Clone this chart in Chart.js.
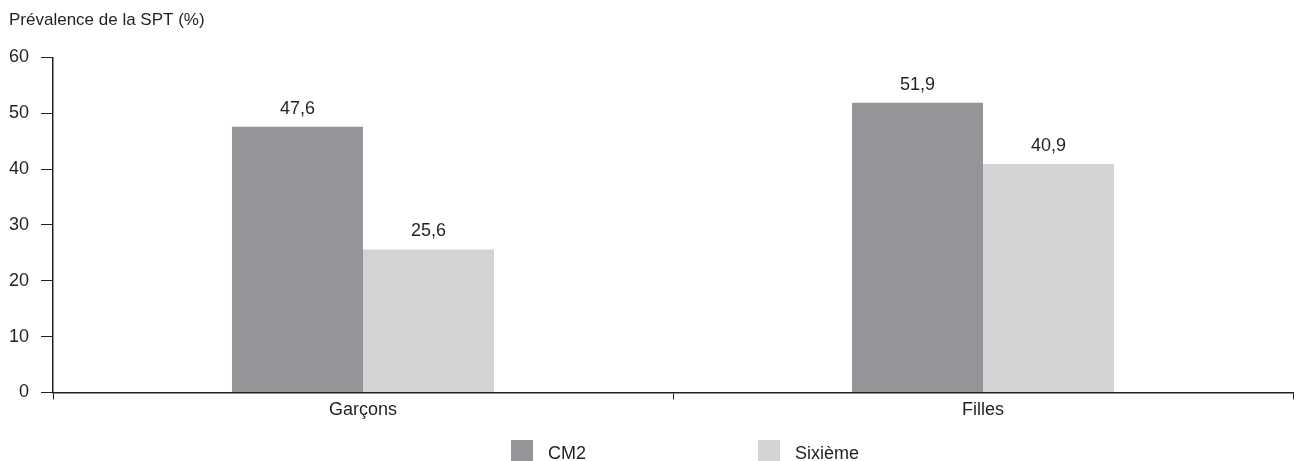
<!DOCTYPE html>
<html>
<head>
<meta charset="utf-8">
<script src="https://cdn.jsdelivr.net/npm/chart.js@4/dist/chart.umd.min.js"></script>
<style>
  html, body { margin: 0; padding: 0; background: #fff; }
  #wrap { width: 1297px; height: 461px; }
</style>
</head>
<body>
<div id="wrap"><canvas id="sptChart"></canvas></div>
<script>
const categories = ["Garçons", "Filles"];
const cm2Values = [47.6, 51.9];
const sixiemeValues = [25.6, 40.9];
const yTicks = [0, 10, 20, 30, 40, 50, 60];

const FONT = "'Liberation Sans', Arial, sans-serif";
const INK = "#231f20";
const SIZE = 18;

// writes the value over each bar, French decimal comma
const valueLabels = {
  id: "valueLabels",
  afterDatasetsDraw(chart) {
    const ctx = chart.ctx;
    ctx.save();
    ctx.font = SIZE + "px " + FONT;
    ctx.fillStyle = INK;
    ctx.textAlign = "center";
    ctx.textBaseline = "alphabetic";
    chart.data.datasets.forEach((ds, i) => {
      chart.getDatasetMeta(i).data.forEach((bar, j) => {
        const txt = ds.data[j].toFixed(1).replace(".", ",");
        ctx.fillText(txt, bar.x, bar.y - 13);
      });
    });
    ctx.restore();
  }
};

// legend under the plot, two widely spaced items
const bottomLegend = {
  id: "bottomLegend",
  afterDraw(chart) {
    const ctx = chart.ctx;
    const mid = (chart.chartArea.left + chart.chartArea.right) / 2;
    const offsets = [-162, 85];
    ctx.save();
    ctx.font = SIZE + "px " + FONT;
    ctx.textBaseline = "alphabetic";
    ctx.textAlign = "left";
    chart.data.datasets.forEach((ds, i) => {
      const x = mid + offsets[i];
      ctx.fillStyle = ds.backgroundColor;
      ctx.fillRect(x, 440, 22, 22);
      ctx.fillStyle = INK;
      ctx.fillText(ds.label, x + 37, 459);
    });
    ctx.restore();
  }
};

const chart = new Chart(document.getElementById("sptChart"), {
  type: "bar",
  data: {
    labels: categories,
    datasets: [
      { label: "CM2", data: cm2Values, backgroundColor: "#939598" },
      { label: "Sixième", data: sixiemeValues, backgroundColor: "#d1d3d4" }
    ]
  },
  options: {
    responsive: true,
    maintainAspectRatio: false,
    animation: false,
    layout: { padding: { left: 9, right: 4, top: 0, bottom: 40 } },
    datasets: {
      bar: { categoryPercentage: 0.4226, barPercentage: 1 }
    },
    scales: {
      x: {
        grid: {
          drawOnChartArea: false,
          drawTicks: true,
          tickLength: 7,
          color: INK,
          offset: true
        },
        border: { color: INK, width: 1.5 },
        ticks: { color: INK, font: { family: FONT, size: SIZE }, padding: 0 }
      },
      y: {
        min: 0,
        max: 60,
        afterBuildTicks(scale) {
          scale.ticks = yTicks.map(v => ({ value: v }));
        },
        afterFit(scale) {
          scale.width = 44;
        },
        grid: {
          drawOnChartArea: false,
          drawTicks: true,
          tickLength: 12,
          color: INK
        },
        border: { color: INK, width: 1.5 },
        ticks: { color: INK, font: { family: FONT, size: SIZE }, padding: 12 }
      }
    },
    plugins: {
      title: {
        display: true,
        text: "Prévalence de la SPT (%)",
        align: "start",
        color: INK,
        font: { family: FONT, size: 17, weight: "normal" },
        padding: { top: 10, bottom: 27 }
      },
      legend: { display: false },
      tooltip: { enabled: false }
    }
  },
  plugins: [valueLabels, bottomLegend]
});
</script>
</body>
</html>
